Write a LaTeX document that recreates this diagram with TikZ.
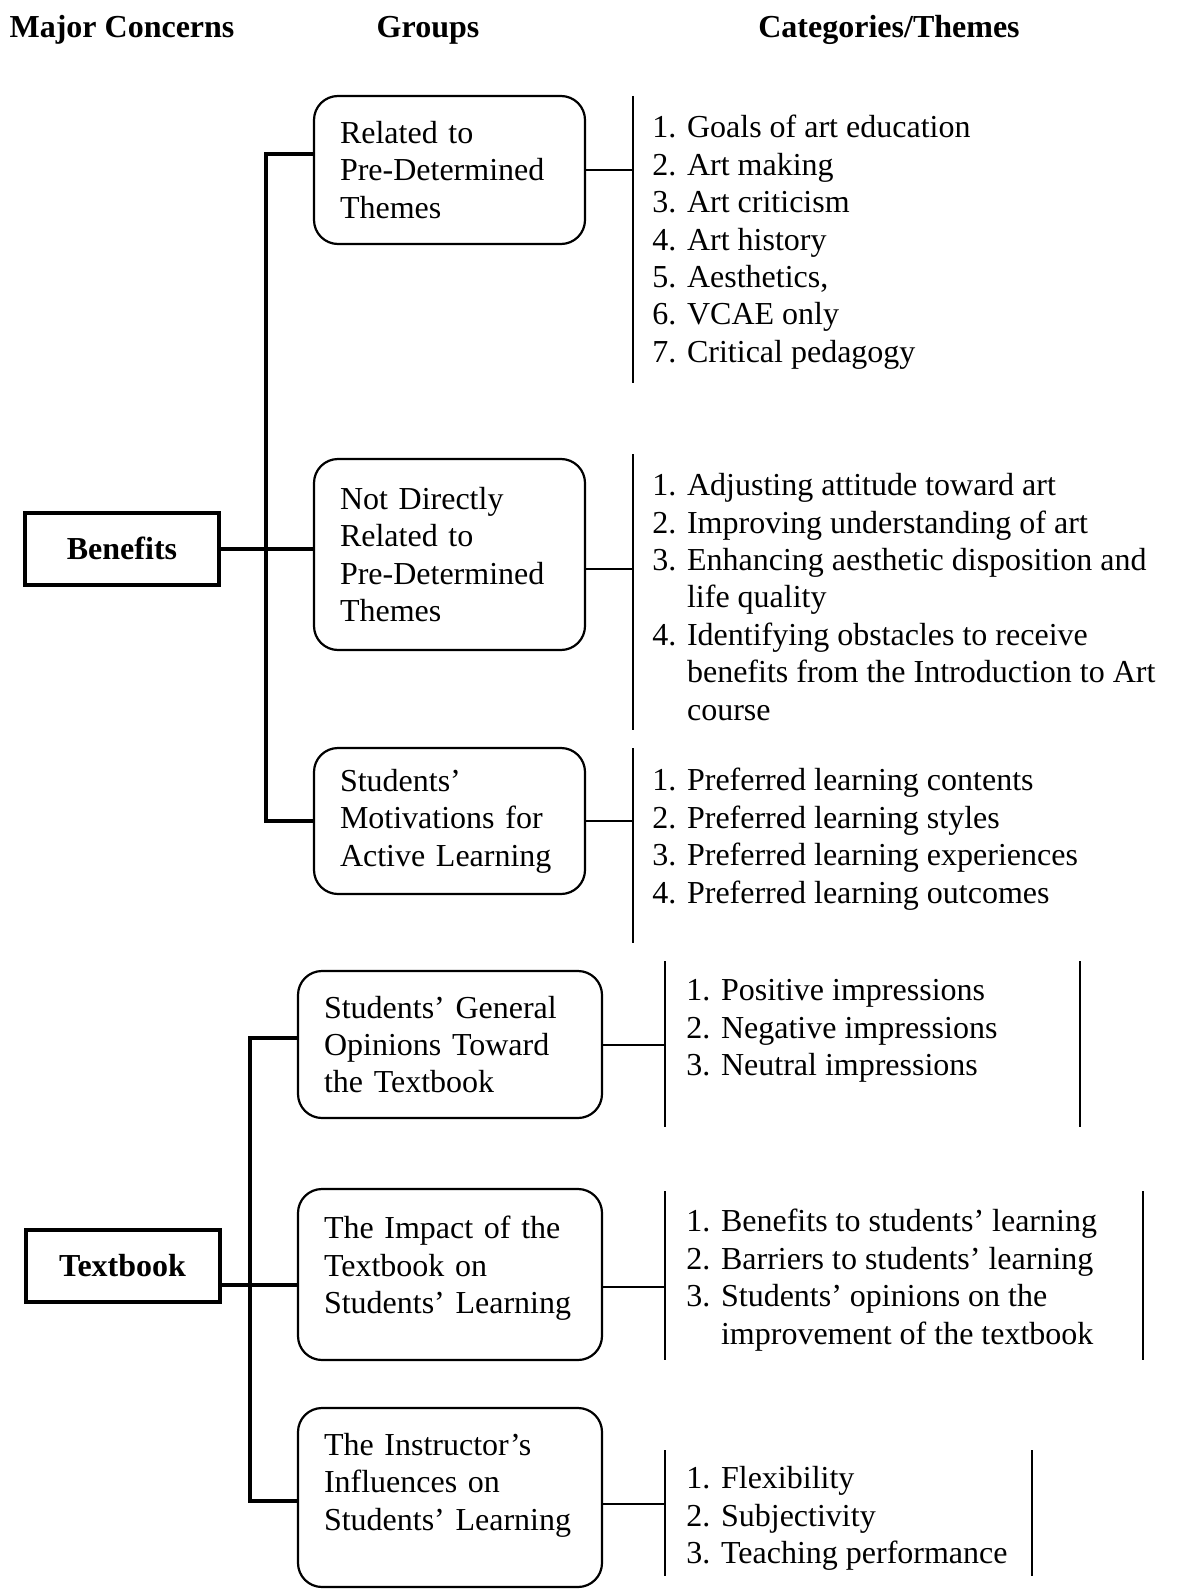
\documentclass[tikz,border=0pt]{standalone}
\usepackage{fontspec}
\setmainfont{Liberation Serif}
\usetikzlibrary{positioning, calc}
\tikzset{
  every picture/.style={x=0.5pt, y=-0.5pt, font=\fontsize{16}{18.7}\selectfont},
  head/.style={font=\fontsize{16}{18.7}\selectfont\bfseries},
  concern/.style={draw, line width=2pt, minimum width=97pt, minimum height=36pt, font=\fontsize{16}{18.7}\selectfont\bfseries},
  group/.style={draw, line width=1.1pt, rounded corners=12pt, align=left, inner xsep=13pt, text width=#1},
  group/.default=109.5pt,
  cats/.style={anchor=north west, align=left, inner sep=0pt},
  trunk/.style={line width=2pt},
  link/.style={line width=1pt},
  bar/.style={line width=1.2pt},
}
\begin{document}
\begin{tikzpicture}
  \useasboundingbox (0,0) rectangle (1184,1589);
  % headings
  \node[head] (hmaj) at (122,30) {Major Concerns};
  \node[head] (hgrp) at (428,30) {Groups};
  \node[head] (hcat) at (889,30) {Categories/Themes};
  % benefits
  \node[concern] (ben) at (122,548.5) {Benefits};
  \node[group, minimum height=74pt] (g1) at (449.5,170) {Related to\\Pre-Determined\\Themes};
  \node[group, minimum height=95.5pt] (g2) at (449.5,554.5) {Not Directly\\Related to\\Pre-Determined\\Themes};
  \node[group, minimum height=73pt] (g3) at (449.5,821) {Students’\\Motivations for\\Active Learning};
  \coordinate (tb1) at (266,154);
  \coordinate (tb3) at (266,821);
  \draw[trunk] (g1.west |- tb1) -- (tb1) -- (tb3) -- (g3.west);
  \draw[trunk] (ben.east) -- (ben.east -| g2.west);
  \node[cats] (c1) at (652,115) {1. Goals of art education\\2. Art making\\3. Art criticism\\4. Art history\\5. Aesthetics,\\6. VCAE only\\7. Critical pedagogy};
  \node[cats] (c2) at (652,473) {1. Adjusting attitude toward art\\2. Improving understanding of art\\3. Enhancing aesthetic disposition and\\\hphantom{3. }life quality\\4. Identifying obstacles to receive\\\hphantom{4. }benefits from the Introduction to Art\\\hphantom{4. }course};
  \node[cats] (c3) at (652,768) {1. Preferred learning contents\\2. Preferred learning styles\\3. Preferred learning experiences\\4. Preferred learning outcomes};
  \coordinate (b1t) at (633,96);  \coordinate (b1b) at (633,383);
  \coordinate (b2t) at (633,454); \coordinate (b2b) at (633,730); \coordinate (b2c) at (633,569);
  \coordinate (b3t) at (633,748); \coordinate (b3b) at (633,943);
  \draw[bar] (b1t) -- (b1b);
  \draw[bar] (b2t) -- (b2b);
  \draw[bar] (b3t) -- (b3b);
  \draw[link] (g1.east) -- (g1.east -| b1t);
  \draw[link] (g2.east |- b2c) -- (b2c);
  \draw[link] (g3.east) -- (g3.east -| b3t);
  % textbook
  \node[concern] (tex) at (122.5,1266) {Textbook};
  \node[group=126pt, minimum height=73.5pt] (g4) at (450,1044.5) {Students’ General\\Opinions Toward\\the Textbook};
  \node[group=126pt, minimum height=85.5pt] (g5) at (450,1274.5) {The Impact of the\\Textbook on\\Students’ Learning\rule[-9.5pt]{0pt}{9.5pt}};
  \node[group=126pt, minimum height=89.5pt] (g6) at (450,1497.5) {The Instructor’s\\Influences on\\Students’ Learning\rule[-16pt]{0pt}{16pt}};
  \coordinate (tt1) at (250,1038);
  \coordinate (ttm) at (250,1285);
  \coordinate (tt3) at (250,1501);
  \draw[trunk] (g4.west |- tt1) -- (tt1) -- (tt3) -- (g6.west |- tt3);
  \draw[trunk] (tex.east |- ttm) -- (g5.west |- ttm);
  \node[cats] (c4) at (686,979) {1. Positive impressions\\2. Negative impressions\\3. Neutral impressions};
  \node[cats] (c5) at (686,1209) {1. Benefits to students’ learning\\2. Barriers to students’ learning\\3. Students’ opinions on the\\\hphantom{3. }improvement of the textbook};
  \node[cats] (c6) at (686,1466) {1. Flexibility\\2. Subjectivity\\3. Teaching performance};
  \coordinate (b4t) at (665,961);  \coordinate (b4b) at (665,1127);
  \coordinate (b5t) at (665,1191); \coordinate (b5b) at (665,1360); \coordinate (b5c) at (665,1287);
  \coordinate (b6t) at (665,1450); \coordinate (b6b) at (665,1576); \coordinate (b6c) at (665,1504);
  \draw[bar] (b4t) -- (b4b);
  \draw[bar] (b4t -| 1080,0) -- (b4b -| 1080,0);
  \draw[bar] (b5t) -- (b5b);
  \draw[bar] (b5t -| 1143,0) -- (b5b -| 1143,0);
  \draw[bar] (b6t) -- (b6b);
  \draw[bar] (b6t -| 1032,0) -- (b6b -| 1032,0);
  \draw[link] (g4.east) -- (g4.east -| b4t);
  \draw[link] (g5.east |- b5c) -- (b5c);
  \draw[link] (g6.east |- b6c) -- (b6c);
\end{tikzpicture}
\end{document}
